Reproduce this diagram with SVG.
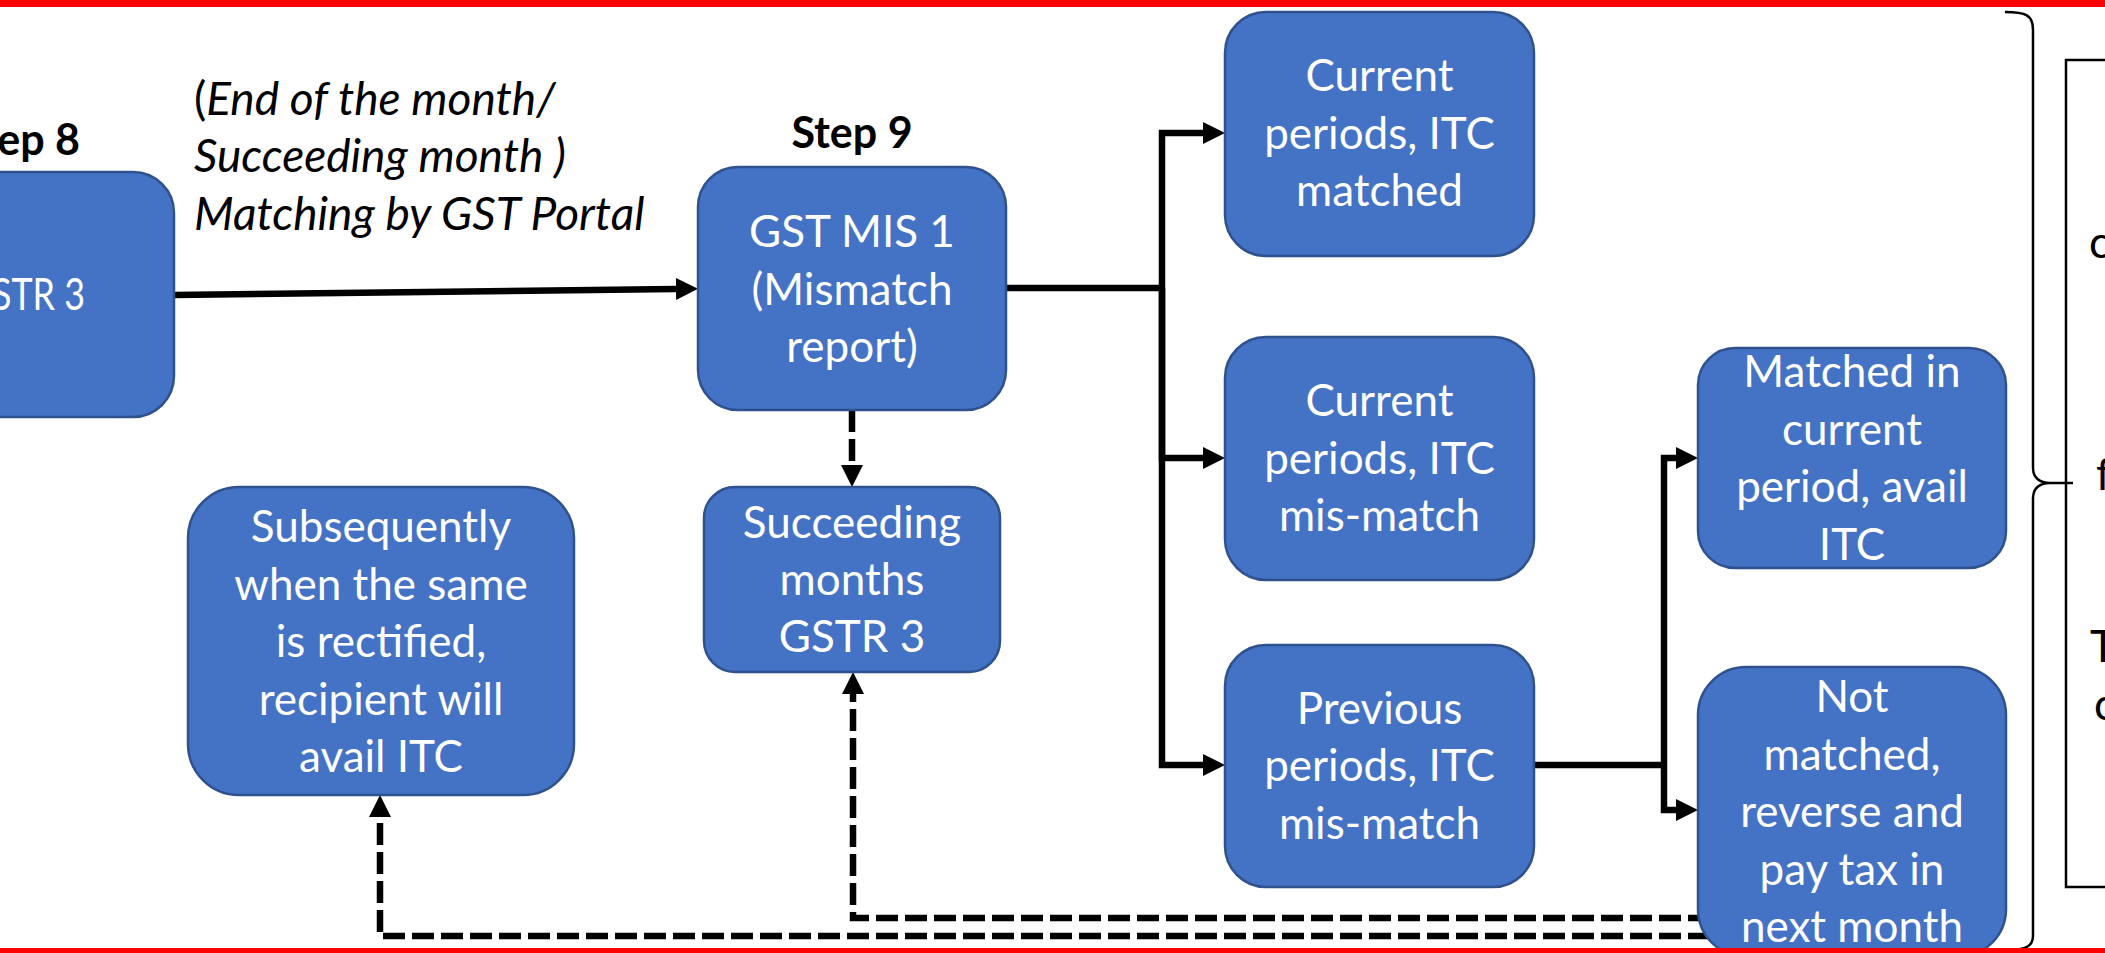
<svg xmlns="http://www.w3.org/2000/svg" width="2105" height="953" viewBox="0 0 2105 953">
<defs>
<style>
.node{fill:#4472C4;stroke:#2F528F;stroke-width:2.5}
.nt{font-family:Lato,"Liberation Sans",sans-serif;font-size:44px;fill:#fff;text-anchor:middle}
.lab{font-family:Lato,"Liberation Sans",sans-serif;font-size:43px;font-weight:bold;fill:#000}
.it{font-family:Lato,"Liberation Sans",sans-serif;font-size:46px;font-style:italic;fill:#000}
.rt{font-family:Lato,"Liberation Sans",sans-serif;font-size:44px;fill:#000}
.solid{fill:none;stroke:#000;stroke-width:6.5;stroke-linejoin:miter}
.dash{fill:none;stroke:#000;stroke-width:6.5;stroke-dasharray:22 7}
.red{fill:#FF0000}
</style>
<marker id="ah" markerUnits="userSpaceOnUse" markerWidth="22" markerHeight="22" refX="0" refY="11" orient="auto">
<path d="M0,0 L22,11 L0,22 z" fill="#000"/>
</marker>
</defs>
<rect width="2105" height="953" fill="#fff"/>

<g id="connectors">
<path class="solid" d="M174,295 L676,289" marker-end="url(#ah)"/>
<path class="solid" d="M1006,288 H1162"/>
<path class="solid" d="M1162,288 V133 H1203" marker-end="url(#ah)"/>
<path class="solid" d="M1162,288 V458 H1203" marker-end="url(#ah)"/>
<path class="solid" d="M1162,288 V765 H1203" marker-end="url(#ah)"/>
<path class="solid" d="M1534,765 H1664"/>
<path class="solid" d="M1664,765 V458 H1676" marker-end="url(#ah)"/>
<path class="solid" d="M1664,765 V810 H1676" marker-end="url(#ah)"/>
<path class="dash" d="M852,410 V465" marker-end="url(#ah)"/>
<path class="dash" d="M1710,918 H853 V694" marker-end="url(#ah)"/>
<path class="dash" d="M1710,936 H380 V817" marker-end="url(#ah)"/>
</g>

<g id="step8">
<rect class="node" x="-60" y="172" width="234" height="245" rx="41"/>
<text class="lab" x="80" y="155" text-anchor="end">ep 8</text>
<text class="nt" x="-8" y="310" style="text-anchor:start" textLength="93" lengthAdjust="spacingAndGlyphs">STR 3</text>
</g>

<g id="matching-label">
<text class="it" x="194" y="115"><tspan font-style="normal">(</tspan>End of the month/</text>
<text class="it" x="194" y="172">Succeeding month )</text>
<text class="it" x="194" y="230">Matching by GST Portal</text>
</g>

<g id="step9">
<text class="lab" x="852" y="148" text-anchor="middle">Step 9</text>
<rect class="node" x="698" y="167" width="308" height="243" rx="40"/>
<text class="nt" x="852" y="247">GST MIS 1</text>
<text class="nt" x="852" y="305">(Mismatch</text>
<text class="nt" x="852" y="362">report)</text>
</g>

<g id="current-matched">
<rect class="node" x="1225" y="12" width="309" height="244" rx="41"/>
<text class="nt" x="1379.5" y="91">Current</text>
<text class="nt" x="1379.5" y="149">periods, ITC</text>
<text class="nt" x="1379.5" y="206">matched</text>
</g>

<g id="current-mismatch">
<rect class="node" x="1225" y="337" width="309" height="243" rx="41"/>
<text class="nt" x="1379.5" y="416">Current</text>
<text class="nt" x="1379.5" y="473.5">periods, ITC</text>
<text class="nt" x="1379.5" y="531">mis-match</text>
</g>

<g id="previous-mismatch">
<rect class="node" x="1225" y="645" width="309" height="242" rx="41"/>
<text class="nt" x="1379.5" y="723.5">Previous</text>
<text class="nt" x="1379.5" y="781">periods, ITC</text>
<text class="nt" x="1379.5" y="838.5">mis-match</text>
</g>

<g id="matched-current">
<rect class="node" x="1698" y="348" width="308" height="220" rx="37"/>
<text class="nt" x="1852" y="387">Matched in</text>
<text class="nt" x="1852" y="444.5">current</text>
<text class="nt" x="1852" y="502">period, avail</text>
<text class="nt" x="1852" y="559.5">ITC</text>
</g>

<g id="not-matched">
<rect class="node" x="1698" y="667" width="308" height="290" rx="48"/>
<text class="nt" x="1852" y="712">Not</text>
<text class="nt" x="1852" y="770">matched,</text>
<text class="nt" x="1852" y="827">reverse and</text>
<text class="nt" x="1852" y="885">pay tax in</text>
<text class="nt" x="1852" y="942">next month</text>
</g>

<g id="succeeding">
<rect class="node" x="704" y="487" width="296" height="185" rx="31"/>
<text class="nt" x="852" y="538">Succeeding</text>
<text class="nt" x="852" y="595">months</text>
<text class="nt" x="852" y="652">GSTR 3</text>
</g>

<g id="subsequently">
<rect class="node" x="188" y="487" width="386" height="308" rx="51"/>
<text class="nt" x="381" y="542">Subsequently</text>
<text class="nt" x="381" y="600">when the same</text>
<text class="nt" x="381" y="657">is rectified,</text>
<text class="nt" x="381" y="715">recipient will</text>
<text class="nt" x="381" y="772">avail ITC</text>
</g>

<g id="brace">
<path d="M2005,12 C2026,12 2033,15 2033,30 L2033,468 C2033,478 2040,483 2050,483 L2073,483 M2050,483 C2040,483 2033,488 2033,498 L2033,936 C2033,946 2026,950 2008,950" fill="none" stroke="#000" stroke-width="2.5"/>
</g>

<g id="note-box">
<rect x="2066" y="60" width="60" height="827" fill="none" stroke="#000" stroke-width="2.5"/>
<text class="rt" x="2089" y="258">c</text>
<text class="rt" x="2096" y="490">f</text>
<text class="rt" x="2090" y="662">T</text>
<text class="rt" x="2094" y="720">c</text>
</g>

<rect class="red" x="0" y="0" width="2105" height="7"/>
<rect class="red" x="0" y="948" width="2105" height="5"/>
</svg>
